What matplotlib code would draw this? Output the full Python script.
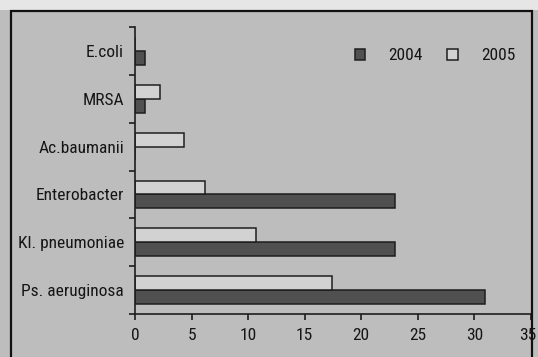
import matplotlib.pyplot as plt
import matplotlib.patches as mpatches
import matplotlib.transforms as mtransforms
import numpy as np

# data (top to bottom)
categories = ["E.coli", "MRSA", "Ac.baumanii", "Enterobacter", "Kl. pneumoniae", "Ps. aeruginosa"]
values_2004 = [0.9, 0.9, 0, 23.0, 23.0, 30.9]
values_2005 = [0, 2.2, 4.3, 6.2, 10.7, 17.4]
years = ["2004", "2005"]
xticks = [0, 5, 10, 15, 20, 25, 30, 35]

bg = "#bdbdbd"
dark = "#505050"
light = "#d2d2d2"
edge = "#1e1e1e"
txt = "#151515"
fs = 12.5

plt.rcParams['font.family'] = ['Roboto Condensed', 'Archivo Narrow', 'DejaVu Sans']

fig = plt.figure(figsize=(5.38, 3.57), dpi=100, facecolor=bg)
# light strip above the frame, then the frame itself
fig.patches.append(mpatches.Rectangle((0, 1 - 10 / 357), 1, 10 / 357, transform=fig.transFigure,
                                      facecolor="#e6e6e6", edgecolor="none", zorder=0))
fig.patches.append(mpatches.Rectangle((11 / 538, -0.05), (532 - 11) / 538, 1.05 - 11 / 357,
                                      transform=fig.transFigure, facecolor="none",
                                      edgecolor="#111111", linewidth=1.6, zorder=1))

ax = fig.add_axes([135 / 538, 1 - 314 / 357, (531 - 135) / 538, (314 - 27) / 357])
ax.set_facecolor(bg)

n = len(categories)
y = np.arange(n)
h = 0.29
ax.barh(y + h / 2, values_2004, height=h, color=dark, edgecolor=edge, linewidth=1.1, label=years[0])
ax.barh(y - h / 2, values_2005, height=h, color=light, edgecolor=edge, linewidth=1.1, label=years[1])

ax.set_ylim(n - 0.5, -0.5)
ax.set_xlim(0, 35)
ax.set_xticks(xticks)
ax.set_xticklabels([str(t) for t in xticks], fontsize=fs, color=txt)
ax.set_yticks(y)
ax.set_yticklabels(categories, fontsize=fs, color=txt)
ax.set_yticks(np.arange(n + 1) - 0.5, minor=True)
ax.tick_params(axis="y", which="major", length=0, pad=8)
ax.tick_params(axis="y", which="minor", length=4, width=1.2, direction="out", color=edge)
ax.tick_params(axis="x", length=4, width=1.2, direction="out", color=edge, pad=6)

# last tick label sits a little left of its tick in the original
last = ax.get_xticklabels()[-1]
last.set_transform(last.get_transform() + mtransforms.ScaledTranslation(-3 / 100, 0, fig.dpi_scale_trans))

for s in ["top", "right"]:
    ax.spines[s].set_visible(False)
for s in ["left", "bottom"]:
    ax.spines[s].set_linewidth(1.2)
    ax.spines[s].set_color(edge)

leg = ax.legend(loc="upper right", bbox_to_anchor=(1.0, 0.98), ncol=2, frameon=False,
                fontsize=fs, handlelength=0.6, handleheight=0.6, columnspacing=1.4,
                handletextpad=1.35)
for t in leg.get_texts():
    t.set_color(txt)

plt.savefig("out.png", dpi=100, facecolor=bg)
